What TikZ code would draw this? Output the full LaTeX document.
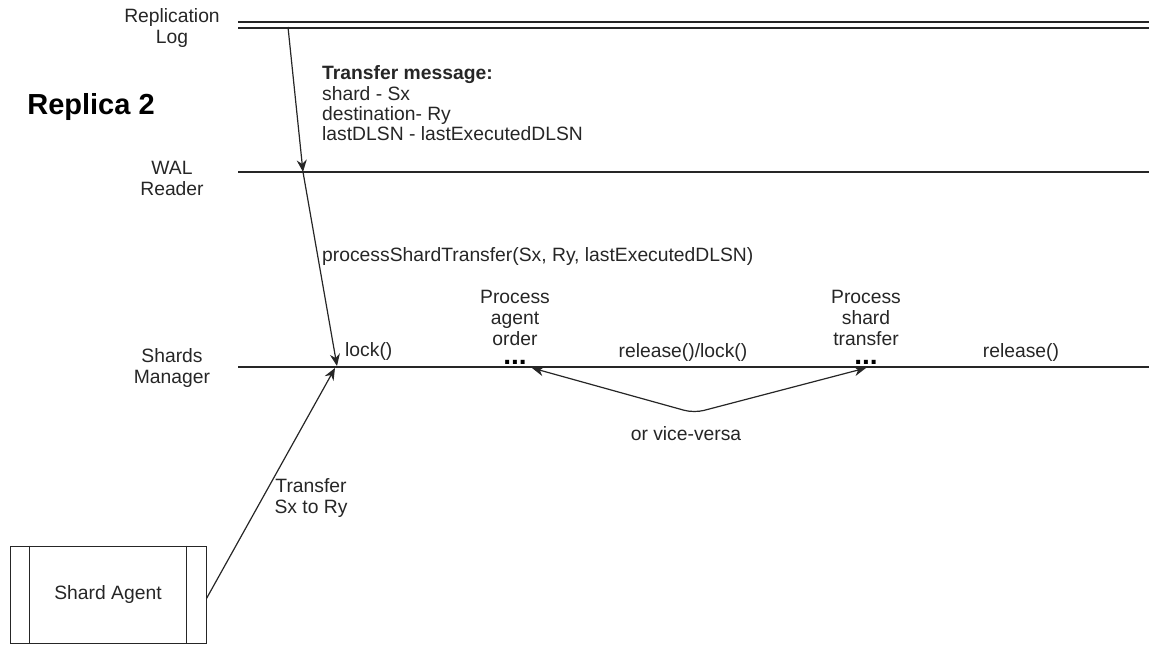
\documentclass[tikz,border=0pt]{standalone}
\usepackage{fontspec}
\setmainfont{Liberation Sans}
\usetikzlibrary{arrows.meta}
\begin{document}
\begin{tikzpicture}[x=1pt,y=-1pt,
  lbl/.style={inner sep=0pt,font=\fontsize{19.3}{21}\selectfont,text=black!85},
  lifeline/.style={line width=1.3pt,draw=black!85},
  tip/.style={Stealth[length=12pt,width=10pt]},
  msg/.style={line width=1.2pt,draw=black!85,-{Stealth[length=12pt,width=10pt]}},
  dots/.style={inner sep=0pt,font=\bfseries\fontsize{28}{28}\selectfont}
]
\useasboundingbox (0,0) rectangle (1149,645);

% lifelines
\coordinate (rlA1) at (238,22); \coordinate (rlB1) at (1149,22);
\coordinate (rlA2) at (238,28); \coordinate (rlB2) at (1149,28);
\coordinate (walA) at (238,172); \coordinate (walB) at (1149,172);
\coordinate (smA) at (238,367); \coordinate (smB) at (1149,367);
\draw[lifeline] (rlA1) -- (rlB1);
\draw[lifeline] (rlA2) -- (rlB2);
\draw[lifeline] (walA) -- (walB);
\draw[lifeline] (smA) -- (smB);

% left labels
\node[lbl,align=center] (rl) at (172,28) {Replication\\Log};
\node[lbl,font=\bfseries\fontsize{29}{31}\selectfont,text=black] (rep) at (91,107) {Replica 2};
\node[lbl,align=center] (wal) at (172,178) {WAL\\Reader};
\node[lbl,align=center] (sm) at (172,368) {Shards\\Manager};

% transfer message text
\node[lbl,anchor=base west,font=\bfseries\fontsize{19.3}{21}\selectfont] (tm0) at (322,79) {Transfer message:};
\node[lbl,anchor=base west] (tm1) at (322,100) {shard - Sx};
\node[lbl,anchor=base west] (tm2) at (322,120) {destination- Ry};
\node[lbl,anchor=base west] (tm3) at (322,140) {lastDLSN - lastExecutedDLSN};

% messages
\coordinate (m0) at (288,27);
\coordinate (m1) at (303,172);
\coordinate (m2) at (337,366);
\draw[msg] (m0) -- (m1);
\draw[msg] (m1) -- (m2);
\node[lbl,anchor=base west] (pst) at (322,261) {processShardTransfer(Sx, Ry, lastExecutedDLSN)};

% shard agent
\node[draw=black!85,line width=1pt,minimum width=196pt,minimum height=97pt,inner sep=0pt,lbl] (agent) at (108,594.5) {Shard Agent};
\draw[line width=1pt,draw=black!85] ([xshift=20pt]agent.north west) -- ([xshift=20pt]agent.south west);
\draw[line width=1pt,draw=black!85] ([xshift=-20pt]agent.north east) -- ([xshift=-20pt]agent.south east);
\coordinate (sm1) at (335,368);
\draw[msg] ([yshift=-4pt]agent.east) -- (sm1);
\node[lbl,align=center] (tr) at (311,498) {Transfer\\Sx to Ry};

% shards manager labels
\node[lbl,anchor=west] (lock) at (345,352) {lock()};
\node[lbl,align=center] (pao) at (515,318) {Process\\agent\\order};
\node[dots,anchor=base] (d1) at (515,364.5) {...};
\node[lbl] (rl1) at (683,353) {release()/lock()};
\node[lbl,align=center] (pst2) at (866,318) {Process\\shard\\transfer};
\node[dots,anchor=base] (d2) at (866,364.5) {...};
\node[lbl] (rel) at (1021,353) {release()};

% or vice-versa
\coordinate (v1) at (532,368);
\coordinate (v2) at (694,413);
\coordinate (v3) at (866,368);
\draw[line width=1.2pt,draw=black!85,{Stealth[length=12pt,width=10pt]}-{Stealth[length=12pt,width=10pt]},rounded corners=10pt] (v1) -- (v2) -- (v3);
\node[lbl] (ov) at (686,434) {or vice-versa};
\end{tikzpicture}
\end{document}
